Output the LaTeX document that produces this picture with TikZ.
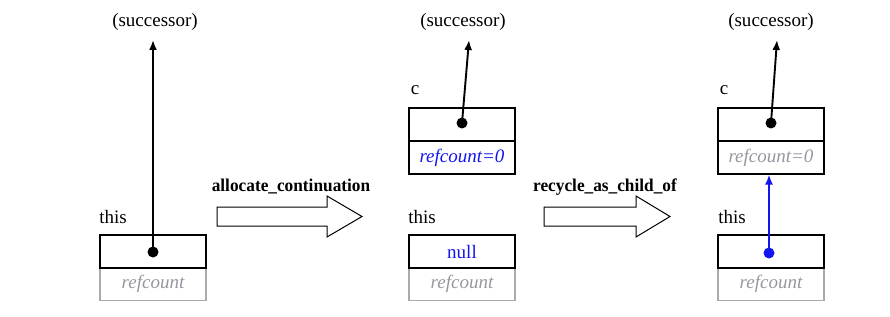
\documentclass[tikz,border=0pt]{standalone}
\usepackage{fontspec}
\setmainfont{Liberation Serif}
\usetikzlibrary{arrows.meta}
\definecolor{lgray}{RGB}{150,150,160}
\definecolor{bgray}{RGB}{170,170,170}
\definecolor{pblue}{RGB}{20,20,240}
\newcommand{\lowtxt}[1]{\raisebox{-4pt}{#1}}
\newcommand{\narrow}[1]{\scalebox{0.96}[1]{#1}}
\begin{document}
\begin{tikzpicture}[x=1pt,y=1pt,
  txt/.style={inner sep=0pt,font=\fontsize{19}{21}\selectfont},
  optxt/.style={inner sep=0pt,font=\bfseries\fontsize{18}{20}\selectfont},
  cell/.style={draw,line width=1.1pt,minimum width=106pt,minimum height=33pt,inner sep=0pt,font=\fontsize{19}{21}\selectfont},
  gcell/.style={draw=bgray,line width=1.1pt,minimum width=106pt,minimum height=33pt,inner sep=0pt,text=lgray,font=\itshape\fontsize{19}{21}\selectfont},
  dotc/.style={circle,fill,inner sep=0pt,minimum size=11pt},
  ptr/.style={line width=1.9pt,-{Latex[length=10pt,width=8pt]}},
  blk/.style={draw,line width=1pt,fill=white,line join=miter}
]
\useasboundingbox (0,0) rectangle (890,316);
% column 1
\node[gcell] (g1) at (153,32) {\lowtxt{refcount}};
\node[cell] (b1) at (153,64.5) {};
\node[dotc] (d1) at (153,64) {};
\node[txt] (s1) at (155,294) {(successor)};
\coordinate (t1) at (153,276);
\draw[ptr] (d1.center) -- (t1);
\node[txt] (th1) at (113,99) {this};
% arrow 1
\draw[blk] (217,90) -- (327,90) -- (327,79) -- (362,99.5) -- (327,120) -- (327,109) -- (217,109) -- cycle;
\node[optxt] (a1) at (291,129) {\narrow{allocate\_continuation}};
% column 2
\node[gcell] (g2) at (462,32) {\lowtxt{refcount}};
\node[cell,text=pblue] (b2) at (462,64.5) {\raisebox{-2pt}{null}};
\node[txt] (th2) at (422,99) {this};
\node[cell,text=pblue,font=\itshape\fontsize{19}{21}\selectfont] (c2b) at (462,158.5) {\raisebox{-1pt}{refcount=0}};
\node[cell] (c2t) at (462,191.5) {};
\node[dotc] (d2) at (462,193) {};
\node[txt] (cl2) at (415,226) {c};
\node[txt] (s2) at (463,294) {(successor)};
\coordinate (t2) at (469,276);
\draw[ptr] (d2.center) -- (t2);
% arrow 2
\draw[blk] (544,90) -- (636,90) -- (636,79) -- (670,99.5) -- (636,120) -- (636,109) -- (544,109) -- cycle;
\node[optxt] (a2) at (605,129) {\narrow{recycle\_as\_child\_of}};
% column 3
\node[gcell] (g3) at (771,32) {\lowtxt{refcount}};
\node[cell] (b3) at (771,64.5) {};
\node[dotc,pblue] (d3) at (769,63) {};
\node[txt] (th3) at (732,99) {this};
\node[cell,text=lgray,font=\itshape\fontsize{19}{21}\selectfont] (c3b) at (771,158.5) {\raisebox{-1pt}{refcount=0}};
\node[cell] (c3t) at (771,191.5) {};
\node[dotc] (d3c) at (771,193) {};
\node[txt] (cl3) at (724,226) {c};
\node[txt] (s3) at (771,294) {(successor)};
\coordinate (t3) at (777,276);
\draw[ptr] (d3c.center) -- (t3);
\draw[ptr,pblue] (d3.center) -- (d3.center |- c3b.south);
\end{tikzpicture}
\end{document}
